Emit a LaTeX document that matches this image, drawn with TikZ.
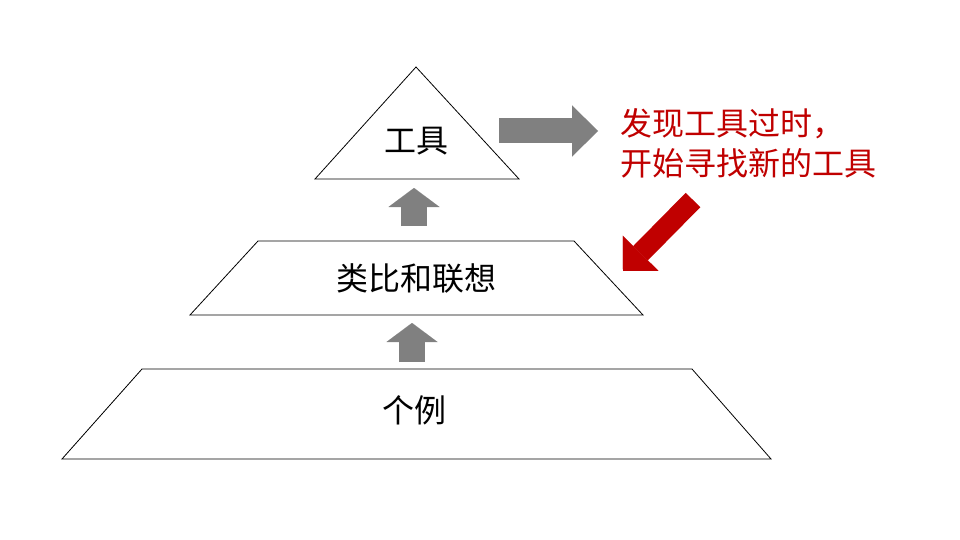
\documentclass[tikz,border=0pt]{standalone}
\usepackage{fontspec}
\setmainfont{Noto Sans CJK SC}
\usepackage{xcolor}
\usetikzlibrary{arrows.meta, positioning}
\definecolor{arrowgray}{RGB}{128,128,128}
\definecolor{alertred}{RGB}{192,0,0}
\tikzset{
  levelshape/.style={draw=black, line width=0.8pt, fill=white, line join=miter},
  levellabel/.style={font=\fontsize{32pt}{40pt}\selectfont, inner sep=0pt},
  notetext/.style={font=\fontsize{32pt}{40pt}\selectfont, text=alertred, align=left, inner sep=0pt},
  uparrow/.style={line width=26pt, arrowgray,
                  -{Triangle[length=19pt, width=51pt, line width=0.01pt]}},
  sidearrow/.style={line width=25pt, arrowgray,
                    -{Triangle[length=26pt, width=51pt, line width=0.01pt]}},
  redarrow/.style={line width=20.5pt, alertred,
                   -{Triangle[length=25pt, width=50pt, line width=0.01pt]}}
}

\begin{document}
\begin{tikzpicture}[x=1pt, y=-1pt]

\fill[white] (0,0) rectangle (960,540);
\useasboundingbox (0,0) rectangle (960,540);

% --- Pyramid levels (top to bottom) ---
\draw[levelshape] (416,67) -- (519,179) -- (315,179) -- cycle;
\draw[levelshape] (258,241) -- (574,241) -- (643,315) -- (190,315) -- cycle;
\draw[levelshape] (142,369) -- (692,369) -- (771,459) -- (62,459) -- cycle;

\node[levellabel] (tool)   at (416,141) {工具};
\node[levellabel] (analog) at (416,278) {类比和联想};
\node[levellabel] (case)   at (414,410) {个例};

% --- Edge points of the levels ---
\coordinate (toolbase)   at (414,179);
\coordinate (analogtop)  at (414,241);
\coordinate (analogbase) at (412,315);
\coordinate (casetop)    at (412,369);
\coordinate (toolside)   at (475,131);

% --- Red note ---
\node[notetext, anchor=west] (note) at (620,143) {发现工具过时，\\开始寻找新的工具};
\coordinate (notewest) at (620,131);
\coordinate (redtail)  at (693,200);
\coordinate (redtip)   at (623,271);

% --- Arrows ---
\draw[uparrow, shorten <=15pt, shorten >=9pt] (analogtop) -- (toolbase);
\draw[uparrow, shorten <=7pt, shorten >=8pt] (casetop) -- (analogbase);
\draw[sidearrow, shorten <=24pt, shorten >=22pt] (toolside) -- (notewest);
\draw[redarrow] (redtail) -- (redtip);

\end{tikzpicture}
\end{document}
